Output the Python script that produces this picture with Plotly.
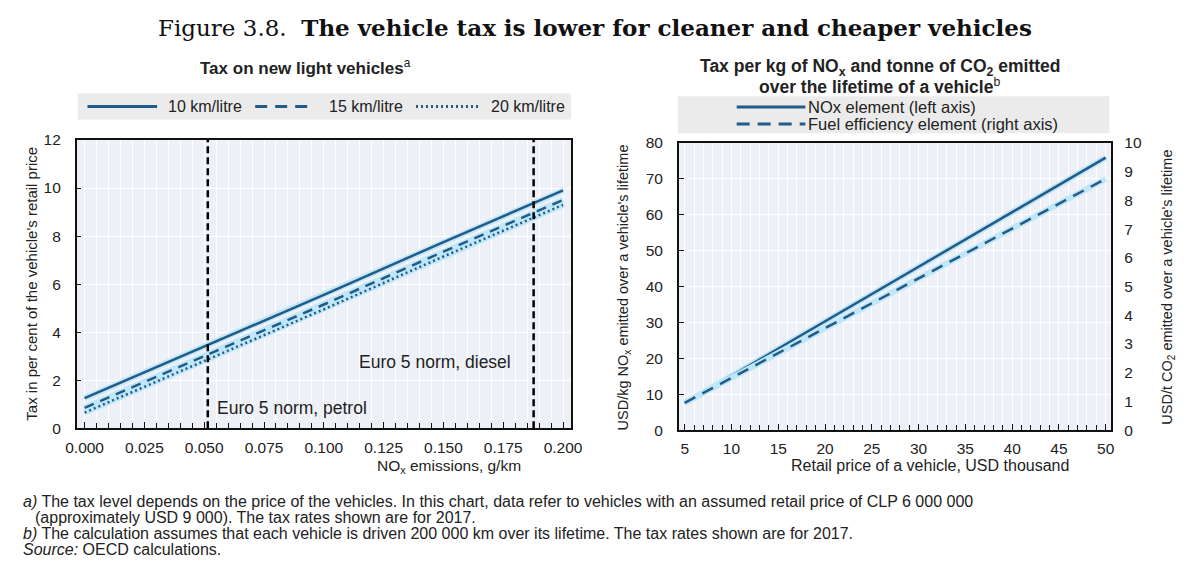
import plotly.graph_objects as go

W, H = 1189, 574


def fx(p):
    return p / W


def fy(p):
    return 1 - p / H


# ---------------- data ----------------
nox_emissions = [0.0, 0.05, 0.10, 0.15, 0.20]
tax_10_km = [1.25, 3.40, 5.55, 7.75, 9.90]
tax_15_km = [0.85, 3.00, 5.15, 7.35, 9.50]
tax_20_km = [0.65, 2.80, 4.95, 7.15, 9.30]
euro5_petrol = 0.0515
euro5_diesel = 0.1877

retail_price = [5, 10, 15, 20, 25, 30, 35, 40, 45, 50]
nox_element = [7.5, 15.1, 22.7, 30.3, 37.9, 45.5, 53.1, 60.7, 68.3, 75.9]
fuel_element = [0.95, 1.82, 2.68, 3.55, 4.42, 5.28, 6.15, 7.02, 7.88, 8.75]

left_x_ticks = [0.0, 0.025, 0.05, 0.075, 0.1, 0.125, 0.15, 0.175, 0.2]
left_x_ticktext = ["0.000", "0.025", "0.050", "0.075", "0.100", "0.125", "0.150", "0.175", "0.200"]

left_series_names = ["10 km/litre", "15 km/litre", "20 km/litre"]
right_series_names = ["NOx element (left axis)", "Fuel efficiency element (right axis)"]

# ---------------- styles ----------------
LINE = "#235b88"
HALO = "#bfe7f8"
FONT = "Liberation Sans, Arial, sans-serif"
TXT = "#222222"
TICK = 15.5
DASH_L = "10px,7px"
DOT_L = "2px,3px"
DASH_R = "12px,8px"

fig = go.Figure()

# left panel halos
for ys in (tax_20_km, tax_15_km, tax_10_km):
    fig.add_trace(go.Scatter(x=nox_emissions, y=ys, mode="lines", xaxis="x", yaxis="y",
                             line=dict(color=HALO, width=6), showlegend=False, hoverinfo="skip"))
for ys, nm, dash in zip((tax_10_km, tax_15_km, tax_20_km), left_series_names, ("solid", DASH_L, DOT_L)):
    fig.add_trace(go.Scatter(x=nox_emissions, y=ys, mode="lines", name=nm,
                             xaxis="x", yaxis="y", showlegend=False,
                             line=dict(color=LINE, width=2.5, dash=dash)))

# right panel
fig.add_trace(go.Scatter(x=retail_price, y=nox_element, mode="lines", xaxis="x2", yaxis="y2",
                         line=dict(color=HALO, width=6), showlegend=False, hoverinfo="skip"))
fig.add_trace(go.Scatter(x=retail_price, y=fuel_element, mode="lines", xaxis="x2", yaxis="y3",
                         line=dict(color=HALO, width=6), showlegend=False, hoverinfo="skip"))
fig.add_trace(go.Scatter(x=retail_price, y=nox_element, mode="lines", name=right_series_names[0],
                         xaxis="x2", yaxis="y2", showlegend=False,
                         line=dict(color=LINE, width=2.5)))
fig.add_trace(go.Scatter(x=retail_price, y=fuel_element, mode="lines", name=right_series_names[1],
                         xaxis="x2", yaxis="y3", showlegend=False,
                         line=dict(color=LINE, width=2.5, dash=DASH_R)))

# Euro 5 norm vertical lines
for xv in (euro5_petrol, euro5_diesel):
    fig.add_shape(type="line", xref="x", yref="y", x0=xv, x1=xv, y0=0, y1=12,
                  line=dict(color="black", width=2.5, dash="7px,4px"), layer="above")

axis_common = dict(showline=True, mirror=True, linecolor="#111111", linewidth=1.5,
                   ticks="inside", tickcolor="#111111", zeroline=False,
                   tickfont=dict(family=FONT, size=TICK, color=TXT),
                   gridcolor="white", gridwidth=1.2, fixedrange=True)

L_dom_x = [fx(67), fx(571)]
L_dom_y = [fy(432), fy(135)]
R_dom_x = [fx(681), fx(1122)]
R_dom_y = [fy(434), fy(138)]

fig.update_layout(
    width=W, height=H,
    margin=dict(l=0, r=0, t=0, b=0),
    paper_bgcolor="white",
    plot_bgcolor="#edf0f6",
    font=dict(family=FONT, size=TICK, color=TXT),
    showlegend=False,
    xaxis=dict(domain=L_dom_x, anchor="y", range=[-0.0033, 0.2033],
               tickvals=left_x_ticks, ticktext=left_x_ticktext, ticklen=6,
               showgrid=True, ticklabelstandoff=4,
               minor=dict(dtick=0.005, tick0=0, ticks="inside", ticklen=5, tickcolor="#111111",
                          showgrid=True, gridcolor="white", gridwidth=1),
               **axis_common),
    yaxis=dict(domain=L_dom_y, anchor="x", range=[0, 12], dtick=2, ticklen=5,
               showgrid=True, ticklabelstandoff=11, **axis_common),
    xaxis2=dict(domain=R_dom_x, anchor="y2", range=[4.37, 50.6], dtick=5, tick0=5, ticklen=6,
                showgrid=True, ticklabelstandoff=4,
                minor=dict(dtick=1, tick0=0, ticks="inside", ticklen=5, tickcolor="#111111",
                           showgrid=True, gridcolor="white", gridwidth=1),
                **axis_common),
    yaxis2=dict(domain=R_dom_y, anchor="x2", range=[0, 80], dtick=10, ticklen=5,
                showgrid=True, ticklabelstandoff=11, **axis_common),
    yaxis3=dict(domain=R_dom_y, anchor="x2", overlaying="y2", side="right", range=[0, 10], dtick=1,
                showgrid=False, showline=False, ticks="", zeroline=False,
                tickfont=dict(family=FONT, size=TICK, color=TXT), ticklabelstandoff=12,
                fixedrange=True),
)

# legend backgrounds
fig.add_shape(type="rect", xref="paper", yref="paper", x0=fx(68), x1=fx(571), y0=fy(114), y1=fy(87),
              fillcolor="#ebebeb", line=dict(width=0), layer="below")
fig.add_shape(type="rect", xref="paper", yref="paper", x0=fx(680), x1=fx(1120), y0=fy(128), y1=fy(90),
              fillcolor="#ebebeb", line=dict(width=0), layer="below")

ann = []

# left legend (drawn)
leg_left = [(78, 149, 158, "solid"), (249, 306, 322, "12px,8px"), (413, 478, 487, DOT_L)]
for (lx0, lx1, tx, dash), nm in zip(leg_left, left_series_names):
    fig.add_shape(type="line", xref="paper", yref="paper", x0=fx(lx0), x1=fx(lx1), y0=fy(100.5), y1=fy(100.5),
                  line=dict(color=LINE, width=3, dash=dash))
    ann.append(dict(text=nm, x=fx(tx), y=fy(100.5), xref="paper", yref="paper", showarrow=False,
                    xanchor="left", yanchor="middle", font=dict(family=FONT, size=16, color=TXT)))

# right legend (drawn)
leg_right = [(101, "solid"), (118.5, "13px,8px")]
for (ly, dash), nm in zip(leg_right, right_series_names):
    fig.add_shape(type="line", xref="paper", yref="paper", x0=fx(740), x1=fx(810), y0=fy(ly), y1=fy(ly),
                  line=dict(color=LINE, width=3, dash=dash))
    ann.append(dict(text=nm, x=fx(811), y=fy(ly), xref="paper", yref="paper", showarrow=False,
                    xanchor="left", yanchor="middle", font=dict(family=FONT, size=16.5, color=TXT)))

ann.append(dict(text="Figure 3.8.  <b>The vehicle tax is lower for cleaner and cheaper vehicles</b>",
                x=fx(596), y=fy(19), xref="paper", yref="paper", showarrow=False,
                xanchor="center", yanchor="middle",
                font=dict(family="DejaVu Serif, serif", size=23, color="#111111")))
ann.append(dict(text="<b>Tax on new light vehicles</b><sup>a</sup>",
                x=fx(300), y=fy(60), xref="paper", yref="paper", showarrow=False,
                xanchor="center", yanchor="middle", font=dict(family=FONT, size=17, color=TXT)))
ann.append(dict(text="<b>Tax per kg of NO<sub>x</sub> and tonne of CO<sub>2</sub> emitted</b>",
                x=fx(886), y=fy(60), xref="paper", yref="paper", showarrow=False,
                xanchor="center", yanchor="middle", font=dict(family=FONT, size=17.5, color=TXT)))
ann.append(dict(text="<b>over the lifetime of a vehicle</b><sup>b</sup>",
                x=fx(886), y=fy(79), xref="paper", yref="paper", showarrow=False,
                xanchor="center", yanchor="middle", font=dict(family=FONT, size=17.5, color=TXT)))
ann.append(dict(text="Tax in per cent of the vehicle's retail price",
                x=fx(20), y=fy(283.5), xref="paper", yref="paper", showarrow=False, textangle=-90,
                xanchor="center", yanchor="middle", font=dict(family=FONT, size=15, color=TXT)))
ann.append(dict(text="USD/kg NO<sub>x</sub> emitted over a vehicle's lifetime",
                x=fx(625), y=fy(287), xref="paper", yref="paper", showarrow=False, textangle=-90,
                xanchor="center", yanchor="middle", font=dict(family=FONT, size=14.5, color=TXT)))
ann.append(dict(text="USD/t CO<sub>2</sub> emitted over a vehicle's lifetime",
                x=fx(1179), y=fy(287), xref="paper", yref="paper", showarrow=False, textangle=-90,
                xanchor="center", yanchor="middle", font=dict(family=FONT, size=14.5, color=TXT)))
ann.append(dict(text="NO<sub>x</sub> emissions, g/km",
                x=fx(447), y=fy(471), xref="paper", yref="paper", showarrow=False,
                xanchor="center", yanchor="middle", font=dict(family=FONT, size=15.5, color=TXT)))
ann.append(dict(text="Retail price of a vehicle, USD thousand",
                x=fx(937), y=fy(470), xref="paper", yref="paper", showarrow=False,
                xanchor="center", yanchor="middle", font=dict(family=FONT, size=16, color=TXT)))
ann.append(dict(text="Euro 5 norm, petrol", x=0.0545, y=0.85, xref="x", yref="y", showarrow=False,
                xanchor="left", yanchor="middle", font=dict(family=FONT, size=17.5, color=TXT)))
ann.append(dict(text="Euro 5 norm, diesel", x=0.179, y=2.75, xref="x", yref="y", showarrow=False,
                xanchor="right", yanchor="middle", font=dict(family=FONT, size=17.5, color=TXT)))

foot = [
    ("<i>a)</i> The tax level depends on the price of the vehicles. In this chart, data refer to vehicles "
     "with an assumed retail price of CLP 6 000 000", 10, 508),
    ("(approximately USD 9 000). The tax rates shown are for 2017.", 22, 524),
    ("<i>b)</i> The calculation assumes that each vehicle is driven 200 000 km over its lifetime. "
     "The tax rates shown are for 2017.", 10, 541),
    ("<i>Source:</i> OECD calculations.", 10, 557),
]
for t, xp, yp in foot:
    ann.append(dict(text=t, x=fx(xp), y=fy(yp), xref="paper", yref="paper", showarrow=False,
                    xanchor="left", yanchor="middle", font=dict(family=FONT, size=16, color=TXT)))

fig.update_layout(annotations=ann)

fig.write_html("out.html")
